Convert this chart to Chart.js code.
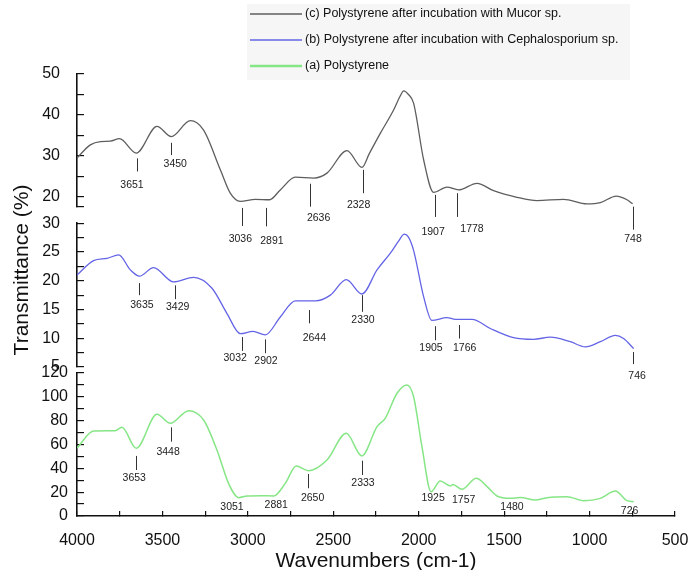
<!DOCTYPE html>
<html><head><meta charset="utf-8">
<script src="https://cdn.jsdelivr.net/npm/chart.js@4/dist/chart.umd.min.js"></script>
<style>html,body{margin:0;padding:0;background:#fff}</style>
</head><body>
<canvas id="c" width="690" height="570"></canvas>
<script>
// ---------- data ----------
const seriesLabels = [
  '(a) Polystyrene',
  '(b) Polystyrene after incubation with Cephalosporium sp.',
  '(c) Polystyrene after incubation with Mucor sp.'
];

// (c) Mucor - top panel
const topWn = [4000,3922,3863,3805,3751,3653,3532,3448,3337,3259,3161,3103,3044,2956,2873,2810,2722,2615,2537,2420,2332,2290,2225,2147,2110,2088,2060,2030,1971,1913,1835,1767,1659,1562,1425,1308,1152,1015,937,844,781,748];
const topVal = [29.5,32.7,33.5,33.6,34.2,30.7,37.2,34.7,38.6,36.3,26.6,20.9,18.9,19.4,19.3,21.7,24.8,24.6,25.8,31.3,27.2,30.5,35.5,41.2,44.5,45.9,45.0,42.9,29.0,21.1,22.4,21.7,23.3,21.5,19.9,19.1,19.4,18.3,18.6,20.2,19.3,18.3];

// (b) Cephalosporium - middle panel
const midWn = [4000,3903,3824,3756,3688,3634,3552,3435,3317,3210,3122,3044,2970,2898,2810,2722,2605,2517,2424,2332,2244,2166,2120,2084,2060,2030,1971,1923,1835,1786,1688,1581,1445,1328,1230,1113,1025,937,849,801,742];
const midVal = [21.0,23.5,23.9,24.5,21.9,20.8,22.3,19.8,20.6,18.7,14.3,10.8,11.2,10.6,13.7,16.5,16.5,17.5,20.2,17.7,21.9,24.8,26.8,28.1,27.6,25.3,17.2,13.1,13.6,13.3,13.3,11.7,10.1,9.8,10.2,9.4,8.5,9.4,10.5,9.95,8.2];

// (a) Polystyrene - bottom panel
const botWn = [4000,3903,3824,3780,3737,3653,3532,3454,3347,3259,3181,3113,3054,3005,2927,2849,2781,2717,2645,2537,2424,2333,2244,2196,2127,2069,2030,1981,1928,1874,1815,1800,1747,1663,1600,1542,1464,1405,1318,1249,1132,1035,937,849,781,742];
const botVal = [57,71.3,71.6,71.5,74.4,56.8,85.3,77.8,88.4,80.6,55.4,27.4,15.4,16.8,17.0,16.8,27.4,42,38,47,69.4,50.4,75,82,103,110,100.1,58.2,20.4,29.4,25.2,26.5,22.4,31.6,24.6,16.8,14.8,15.6,13.4,15.4,16.2,12.9,14.8,21,12.9,12];

// peak marks: label text (wavenumber), label centre (wavenumber), tick-line ends and label level in panel units
const topMarks = [3651,3450,3036,2891,2636,2328,1907,1778,748];
const topMarkLabelWn = [3678,3425,3044,2859,2586,2352,1916,1688,746];
const topMarkTop = [29.4,33.2,17.3,17.3,23.2,26.6,20.5,20.9,17.6];
const topMarkBottom = [26.2,30.2,12.9,12.8,17.6,20.9,15.1,15.1,12.0];
const topMarkLabel = [22.9,28.0,9.8,9.1,14.8,17.9,11.3,12.2,9.7];

const midMarks = [3635,3429,3032,2902,2644,2330,1905,1766,746];
const midMarkLabelWn = [3620,3411,3074,2894,2611,2326,1928,1731,722];
const midMarkTop = [19.6,19.2,10.2,9.8,14.9,17.5,12.1,12.3,7.6];
const midMarkBottom = [17.5,16.8,7.8,7.4,12.6,14.6,9.65,9.95,5.5];
const midMarkLabel = [15.75,15.5,6.5,6.0,10.1,13.1,8.3,8.3,3.4];

const botMarks = [3653,3448,3051,2881,2650,2333,1925,1757,1480,726];
const botMarkLabelWn = [3665,3467,3093,2834,2621,2326,1916,1737,1454,766];
const botMarkTop = [50.4,74.4,null,null,35.3,46.4,null,null,null,null];
const botMarkBottom = [38.6,62.4,null,null,23.3,34.4,null,null,null,null];
const botMarkLabel = [32.1,54.0,7.8,9.2,14.9,27.4,14.9,13.4,7.3,4.5];

// ---------- build ----------
const pts = (xs, ys) => xs.map((x, i) => ({x, y: ys[i]}));
const FONT = '"Liberation Sans", Arial, sans-serif';
const INK = '#111';

const panels = [
  {axis: 'yBot', marks: botMarks, lx: botMarkLabelWn, top: botMarkTop, bottom: botMarkBottom, label: botMarkLabel},
  {axis: 'yMid', marks: midMarks, lx: midMarkLabelWn, top: midMarkTop, bottom: midMarkBottom, label: midMarkLabel},
  {axis: 'yTop', marks: topMarks, lx: topMarkLabelWn, top: topMarkTop, bottom: topMarkBottom, label: topMarkLabel}
];

const markPlugin = {
  id: 'marks',
  afterDatasetsDraw(chart) {
    const c = chart.ctx, xs = chart.scales.x;
    c.save();
    c.strokeStyle = '#333'; c.lineWidth = 1; c.fillStyle = '#222';
    c.font = '10.5px ' + FONT; c.textAlign = 'center'; c.textBaseline = 'middle';
    panels.forEach(p => {
      const ys = chart.scales[p.axis];
      p.marks.forEach((m, i) => {
        if (p.top[i] !== null) {
          const px = Math.round(xs.getPixelForValue(m)) + 0.5;
          c.beginPath();
          c.moveTo(px, ys.getPixelForValue(p.top[i]));
          c.lineTo(px, ys.getPixelForValue(p.bottom[i]));
          c.stroke();
        }
        c.fillText(String(m), xs.getPixelForValue(p.lx[i]), ys.getPixelForValue(p.label[i]));
      });
    });
    c.restore();
  }
};

const legendPlugin = {
  id: 'legendBox',
  afterDraw(chart) {
    const c = chart.ctx;
    c.save();
    c.fillStyle = '#f6f6f6';
    c.fillRect(247, 4, 383, 76);
    const order = [2, 1, 0];
    const rowsY = [14, 40, 66];
    c.font = '12.5px ' + FONT; c.textAlign = 'left'; c.textBaseline = 'middle';
    order.forEach((di, r) => {
      const ds = chart.data.datasets[di];
      c.strokeStyle = ds.borderColor; c.lineWidth = di === 0 ? 2.5 : 1.5;
      c.beginPath(); c.moveTo(250, rowsY[r]); c.lineTo(302, rowsY[r]); c.stroke();
      c.fillStyle = INK;
      c.fillText(ds.label, 305, rowsY[r]);
    });
    c.restore();
  }
};

const yTitlePlugin = {
  id: 'yTitle',
  afterDraw(chart) {
    const c = chart.ctx;
    c.save();
    c.translate(22, 270); c.rotate(-Math.PI / 2);
    c.font = '21px ' + FONT; c.fillStyle = INK; c.textAlign = 'center'; c.textBaseline = 'middle';
    c.fillText('Transmittance (%)', 0, 0);
    c.restore();
  }
};

const yAxis = (min, max, step, labelEvery, sw, weight, pad) => ({
  type: 'linear', position: 'left', stack: 'panels', stackWeight: sw, weight,
  min, max,
  afterBuildTicks: s => {
    const t = [];
    const first = Math.ceil(min / step - 1e-9) * step;
    if (first - min > 1e-9) t.push(min);
    for (let v = first; v <= max + 1e-9; v += step) t.push(+v.toFixed(4));
    s.ticks = t.map(value => ({value}));
  },
  ticks: {autoSkip: false, font: {size: 16, family: FONT}, color: INK, padding: pad,
    callback: v => (Math.abs(v / labelEvery - Math.round(v / labelEvery)) < 1e-6 ? v : '')},
  grid: {drawOnChartArea: false, tickLength: -7, color: INK, lineWidth: 1.2},
  border: {color: INK, width: 1.6},
  afterFit: s => { s.width = 77; }
});
const gapAxis = (sw, weight) => ({
  type: 'linear', position: 'left', stack: 'panels', stackWeight: sw, weight,
  display: true, ticks: {display: false}, grid: {display: false}, border: {display: false},
  afterFit: s => { s.width = 77; }
});

new Chart(document.getElementById('c'), {
  type: 'line',
  data: {
    datasets: [
      {label: seriesLabels[0], data: pts(botWn, botVal), yAxisID: 'yBot', borderColor: '#86e686', borderWidth: 1.5},
      {label: seriesLabels[1], data: pts(midWn, midVal), yAxisID: 'yMid', borderColor: '#6464e6', borderWidth: 1.3},
      {label: seriesLabels[2], data: pts(topWn, topVal), yAxisID: 'yTop', borderColor: '#5e5e5e', borderWidth: 1.3}
    ]
  },
  options: {
    responsive: false, animation: false,
    layout: {padding: {top: 74, right: 15, bottom: 0, left: 0}},
    elements: {point: {radius: 0}, line: {cubicInterpolationMode: 'monotone', fill: false}},
    plugins: {legend: {display: false}, tooltip: {enabled: false}},
    scales: {
      x: {
        type: 'linear', position: 'bottom', min: 500, max: 4000, reverse: true,
        ticks: {stepSize: 250, autoSkip: false, maxRotation: 0, font: {size: 16, family: FONT}, color: INK, padding: 20,
          callback: v => (v % 500 === 0 ? v : '')},
        grid: {drawOnChartArea: false, tickLength: -5, color: INK, lineWidth: 1.2},
        border: {color: INK, width: 1.6},
        title: {display: true, text: 'Wavenumbers (cm-1)', font: {size: 21, family: FONT, lineHeight: 0.85}, color: INK, padding: {top: 0, bottom: 0}},
        afterFit: s => { s.height = 54; s.paddingLeft = 0; s.paddingRight = 0; }
      },
      yBot: yAxis(0, 120, 10, 20, 143, 1, 16),
      gap2: gapAxis(6, 2),
      yMid: yAxis(5, 30, 2.5, 5, 143.7, 3, 24),
      gap1: gapAxis(16.6, 4),
      yTop: yAxis(17.6, 50, 5, 10, 132.7, 5, 24)
    }
  },
  plugins: [markPlugin, legendPlugin, yTitlePlugin]
});
</script>
</body></html>
